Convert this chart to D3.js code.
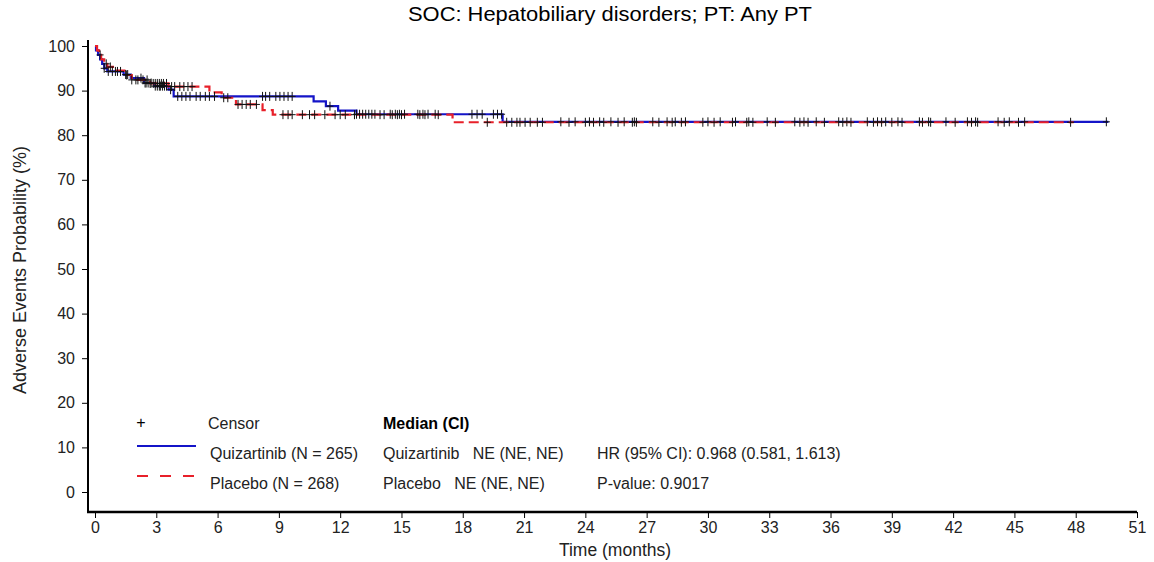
<!DOCTYPE html>
<html>
<head>
<meta charset="utf-8">
<script src="https://cdn.jsdelivr.net/npm/d3@7"></script>
<style>
  body { margin: 0; background: #fff; }
  svg { font-family: "Liberation Sans", Arial, sans-serif; }
</style>
</head>
<body>
<svg width="1154" height="562"></svg>
<script>
// Kaplan-Meier steps (time in months, probability in %)
const quizTimes = [0, 0.05, 0.15, 0.25, 0.35, 0.45, 0.6, 1.4, 1.75, 2.4, 2.9, 3.6, 3.85, 10.7, 11.3, 11.9, 12.8, 19.95];
const quizSurv  = [100, 99, 98, 97, 96, 95, 94.3, 93.6, 92.8, 91.7, 91.0, 90.2, 88.7, 87.6, 86.5, 85.5, 84.7, 83.0];
const quizEnd = 49.6;

const placTimes = [0, 0.1, 0.2, 0.3, 0.45, 0.6, 1.0, 1.5, 1.8, 2.7, 3.6, 5.6, 6.2, 6.9, 8.2, 8.7, 17.5];
const placSurv  = [100, 99, 98, 97, 96, 95.3, 94.5, 93.5, 92.4, 91.6, 90.9, 89.6, 88.4, 86.9, 85.6, 84.6, 82.9];
const placEnd = 47.9;

// censored observations (months)
const quizCensor = [0.45, 0.65, 0.85, 1.0, 1.1, 1.25, 1.5, 1.6, 2.25, 2.45, 2.5, 2.6, 2.75, 2.95, 3.05,
  3.15, 3.2, 3.3, 3.4, 3.5, 3.7,
  4.05, 4.25, 4.45, 4.65, 4.95, 5.15, 5.4, 5.6, 5.85, 8.2, 8.35, 8.55, 8.85, 9.05, 9.25, 9.45, 9.65,
  11.5, 12.8, 12.95, 13.1, 13.25, 13.4, 13.55, 13.7, 14.45, 14.7, 14.9, 15.15, 15.8, 16.05, 16.3, 16.65,
  18.45, 18.7, 18.95, 19.5, 19.7, 19.9,
  22.8, 23.5, 24.2, 24.7, 25.25, 25.9, 26.4, 27.3, 28.0, 28.4, 28.9, 30.0, 30.6, 31.35, 32.0, 32.9,
  34.25, 34.7, 35.3, 36.4, 36.8, 37.8, 38.3, 38.7, 39.3, 40.35, 40.8, 41.65, 42.7, 43.1, 44.2, 44.75,
  45.5, 49.5];
const placCensor = [0.25, 0.55, 0.75, 1.55, 1.8, 2.0, 2.1, 2.35, 2.55, 2.7, 2.85, 2.95, 3.05, 3.15, 3.25,
  3.35, 3.5, 3.75, 3.9, 4.15, 4.35, 4.55, 4.75, 6.3, 6.5, 7.0, 7.2, 7.4, 7.6, 7.9, 9.2, 9.45, 9.65,
  10.15, 10.5, 10.75, 11.25, 11.75, 12.0, 12.25, 12.7, 13.95, 14.15, 14.55, 14.8, 15.0, 15.9, 16.15,
  16.8, 19.2, 20.15, 20.4, 20.65, 20.8, 21.05, 21.3, 21.65, 21.9, 23.2, 24.0, 24.4, 24.9, 25.6, 26.3,
  26.5, 27.6, 28.25, 28.7, 29.75, 30.3, 31.2, 31.9, 32.2, 33.3, 34.5, 34.9, 35.7, 36.6, 37.0, 38.1,
  38.5, 39.0, 39.5, 40.5, 40.9, 42.1, 42.9, 43.2, 44.5, 45.2, 47.75];

const xTicks = [0, 3, 6, 9, 12, 15, 18, 21, 24, 27, 30, 33, 36, 39, 42, 45, 48, 51];
const yTicks = [0, 10, 20, 30, 40, 50, 60, 70, 80, 90, 100];

const blue = "#1414c8";
const red = "#e8202a";

const svg = d3.select("svg");
const x = d3.scaleLinear().domain([0, 51]).range([95, 1137]);
const y = d3.scaleLinear().domain([0, 100]).range([492, 46]);
const axisLeftX = 88;
const axisBottomY = 512;

// title
svg.append("text")
  .attr("x", 610).attr("y", 21)
  .attr("text-anchor", "middle")
  .attr("font-size", 20)
  .attr("textLength", 404).attr("lengthAdjust", "spacingAndGlyphs")
  .text("SOC: Hepatobiliary disorders; PT: Any PT");

// y axis
const yAxis = svg.append("g")
  .attr("transform", `translate(${axisLeftX},0)`)
  .call(d3.axisLeft(y).tickValues(yTicks).tickSize(6).tickPadding(7));
yAxis.select(".domain").remove();
yAxis.selectAll("text").attr("font-size", 16).attr("fill", "#222");
svg.append("line")
  .attr("x1", axisLeftX).attr("x2", axisLeftX)
  .attr("y1", 40).attr("y2", axisBottomY + 1)
  .attr("stroke", "#000").attr("stroke-width", 2);

// x axis
const xAxis = svg.append("g")
  .attr("transform", `translate(0,${axisBottomY})`)
  .call(d3.axisBottom(x).tickValues(xTicks).tickSize(6).tickPadding(4));
xAxis.select(".domain").remove();
xAxis.selectAll("text").attr("font-size", 16).attr("fill", "#222");
svg.append("line")
  .attr("x1", axisLeftX - 1).attr("x2", x(51))
  .attr("y1", axisBottomY).attr("y2", axisBottomY)
  .attr("stroke", "#000").attr("stroke-width", 2.5);

svg.append("text")
  .attr("x", 615).attr("y", 556)
  .attr("text-anchor", "middle")
  .attr("font-size", 17.5).attr("fill", "#222")
  .text("Time (months)");

svg.append("text")
  .attr("transform", "translate(26,270) rotate(-90)")
  .attr("text-anchor", "middle")
  .attr("font-size", 18).attr("fill", "#222")
  .text("Adverse Events Probability (%)");

// curves
const stepPoints = (times, surv, end) => {
  const pts = times.map((t, i) => [t, surv[i]]);
  pts.push([end, surv[surv.length - 1]]);
  return pts;
};
const survAt = (times, surv, t) => {
  let v = surv[0];
  times.forEach((tt, i) => { if (tt <= t) v = surv[i]; });
  return v;
};
const line = d3.line()
  .x(d => x(d[0]))
  .y(d => y(d[1]))
  .curve(d3.curveStepAfter);

svg.append("path")
  .datum(stepPoints(quizTimes, quizSurv, quizEnd))
  .attr("d", line)
  .attr("fill", "none")
  .attr("stroke", blue)
  .attr("stroke-width", 2.2);

svg.append("path")
  .datum(stepPoints(placTimes, placSurv, placEnd))
  .attr("d", line)
  .attr("fill", "none")
  .attr("stroke", red)
  .attr("stroke-width", 2.2)
  .attr("stroke-dasharray", "10,5");

// censor marks
const censorData = quizCensor.map(t => [t, survAt(quizTimes, quizSurv, t)])
  .concat(placCensor.map(t => [t, survAt(placTimes, placSurv, t)]));

svg.append("g")
  .selectAll("path")
  .data(censorData)
  .join("path")
  .attr("d", d => {
    const cx = x(d[0]), cy = y(d[1]);
    return `M${cx - 3.5},${cy}H${cx + 3.5}M${cx},${cy - 4.5}V${cy + 4.5}`;
  })
  .attr("stroke", "#111")
  .attr("stroke-width", 1);

// legend
const lg = svg.append("g").attr("font-size", 16).attr("fill", "#222");
lg.append("text").attr("x", 141).attr("y", 428).attr("text-anchor", "middle").attr("fill", "#000").text("+");
lg.append("text").attr("x", 208).attr("y", 429).text("Censor");
lg.append("text").attr("x", 383).attr("y", 429).attr("font-weight", "bold").attr("fill", "#000").text("Median (CI)");

lg.append("line").attr("x1", 137).attr("x2", 196).attr("y1", 446).attr("y2", 446)
  .attr("stroke", blue).attr("stroke-width", 2);
lg.append("line").attr("x1", 137).attr("x2", 196).attr("y1", 476).attr("y2", 476)
  .attr("stroke", red).attr("stroke-width", 2).attr("stroke-dasharray", "11,12");

lg.append("text").attr("x", 210).attr("y", 459).text("Quizartinib (N = 265)");
lg.append("text").attr("x", 210).attr("y", 489).text("Placebo (N = 268)");
lg.append("text").attr("x", 383).attr("y", 459).attr("xml:space", "preserve").text("Quizartinib   NE (NE, NE)");
lg.append("text").attr("x", 383).attr("y", 489).attr("xml:space", "preserve").text("Placebo   NE (NE, NE)");
lg.append("text").attr("x", 597).attr("y", 459).text("HR (95% CI): 0.968 (0.581, 1.613)");
lg.append("text").attr("x", 597).attr("y", 489).text("P-value: 0.9017");
</script>
</body>
</html>
